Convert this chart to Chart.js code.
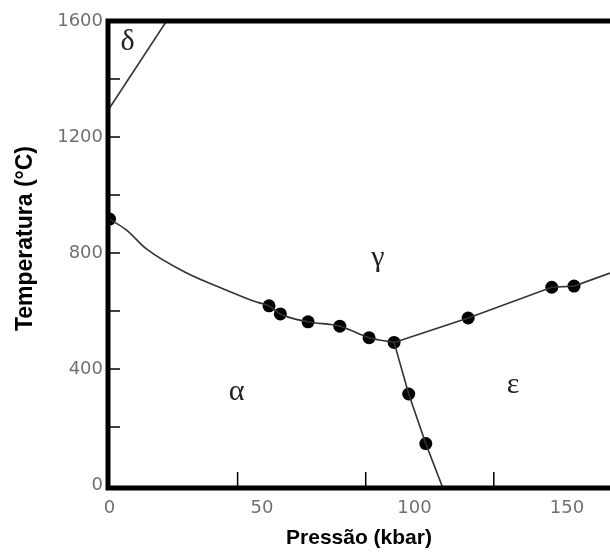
<!DOCTYPE html>
<html>
<head>
<meta charset="utf-8">
<script src="https://cdn.jsdelivr.net/npm/chart.js@4/dist/chart.umd.min.js"></script>
<style>
  html, body { margin: 0; padding: 0; background: #fff; }
  canvas { display: block; }
</style>
</head>
<body>
<canvas id="chart" width="610" height="555"></canvas>
<script>
// pontos medidos (pressão em kbar, temperatura em °C)
const dotP = [0, 52.3, 56.0, 65.1, 75.5, 85.1, 93.3, 98.1, 103.7, 117.6, 145.0, 152.3];
const dotT = [917, 618, 590, 563, 548, 508, 492, 314, 143, 576, 682, 686];

// fronteiras entre as fases
const alphaGammaP = [0, 5.6, 12.1, 25.3, 38.4, 48.2, 52.3, 56.0, 65.1, 75.5, 85.1, 93.3];
const alphaGammaT = [917, 879, 814, 731, 672, 631, 618, 590, 563, 548, 508, 492];
const gammaEpsP = [93.3, 117.6, 145.0, 152.3, 164.1];
const gammaEpsT = [492, 576, 682, 686, 731];
const alphaEpsP = [93.3, 98.1, 103.7, 109.3];
const alphaEpsT = [492, 314, 143, -10];
const deltaP = [0, 18.7];
const deltaT = [1300, 1600];

// nomes das fases
const phaseNames = ['δ', 'γ', 'α', 'ε'];
const phaseP = [5.9, 88, 41.7, 132.3];
const phaseT = [1528, 783, 321, 345];

// eixos
const xLabels = [0, 50, 100, 150];
const xMarks = [42, 84, 126];
const yLabels = [0, 400, 800, 1200, 1600];
const yMarks = [200, 400, 600, 800, 1000, 1200, 1400];
const yTitle = 'Temperatura (°C)';

const pts = (xs, ys) => xs.map((v, i) => ({ x: v, y: ys[i] }));

function boundary(xs, ys, smooth) {
  return {
    data: pts(xs, ys),
    showLine: true,
    borderColor: '#333',
    borderWidth: 1.6,
    pointRadius: 0,
    cubicInterpolationMode: smooth ? 'monotone' : 'default',
    tension: 0
  };
}

const frame = {
  id: 'frame',
  afterDatasetsDraw(chart) {
    const { ctx, chartArea: a, scales: { x, y } } = chart;
    ctx.save();
    ctx.strokeStyle = '#000';
    ctx.lineWidth = 1.5;
    ctx.beginPath();
    yMarks.forEach(v => {
      const py = y.getPixelForValue(v);
      ctx.moveTo(a.left, py);
      ctx.lineTo(a.left + 12, py);
    });
    xMarks.forEach(v => {
      const px = x.getPixelForValue(v);
      ctx.moveTo(px, a.bottom);
      ctx.lineTo(px, a.bottom - 16);
    });
    ctx.stroke();

    ctx.lineWidth = 5;
    ctx.beginPath();
    ctx.moveTo(a.right + 5, a.top);
    ctx.lineTo(a.left, a.top);
    ctx.lineTo(a.left, a.bottom);
    ctx.lineTo(a.right + 5, a.bottom);
    ctx.stroke();

    ctx.fillStyle = '#222';
    ctx.font = '30px "Liberation Serif"';
    ctx.textAlign = 'center';
    ctx.textBaseline = 'middle';
    phaseNames.forEach((s, i) => {
      ctx.fillText(s, x.getPixelForValue(phaseP[i]), y.getPixelForValue(phaseT[i]));
    });

    // título do eixo y, um pouco acima do centro como no original
    ctx.fillStyle = '#000';
    ctx.font = 'bold 23px "Liberation Sans"';
    ctx.translate(26, y.getPixelForValue(850));
    ctx.rotate(-Math.PI / 2);
    ctx.fillText(yTitle, 0, 0);
    ctx.restore();
  }
};

new Chart(document.getElementById('chart'), {
  type: 'scatter',
  data: {
    datasets: [
      boundary(alphaGammaP, alphaGammaT, true),
      boundary(gammaEpsP, gammaEpsT),
      boundary(alphaEpsP, alphaEpsT),
      boundary(deltaP, deltaT),
      {
        data: pts(dotP, dotT),
        showLine: false,
        pointRadius: 6.5,
        pointBackgroundColor: '#000',
        pointBorderColor: '#000',
        pointBorderWidth: 0
      }
    ]
  },
  options: {
    responsive: false,
    animation: false,
    layout: { autoPadding: false, padding: { top: 21, right: 0, bottom: 0, left: 0 } },
    plugins: { legend: { display: false }, tooltip: { enabled: false } },
    scales: {
      x: {
        type: 'linear',
        min: -0.5,
        max: 164.1,
        grid: { display: false, drawTicks: false },
        border: { display: false },
        afterBuildTicks: s => { s.ticks = xLabels.map(v => ({ value: v })); },
        afterFit: s => { s.height = 67; },
        ticks: {
          padding: 10,
          color: '#707070',
          font: { family: 'DejaVu Sans', size: 18 },
          maxRotation: 0,
          callback: v => String(v)
        },
        title: {
          display: true,
          text: 'Pressão (kbar)',
          color: '#000',
          font: { family: 'Liberation Sans', size: 21, weight: 'bold' },
          padding: { top: 4, bottom: 4 }
        }
      },
      y: {
        min: -10,
        max: 1600,
        grid: { display: false, drawTicks: false },
        border: { display: false },
        afterBuildTicks: s => { s.ticks = yLabels.map(v => ({ value: v })); },
        afterFit: s => { s.width = 108; },
        ticks: {
          padding: 5,
          color: '#707070',
          font: { family: 'DejaVu Sans', size: 18 },
          callback: v => String(v)
        }
      }
    }
  },
  plugins: [frame]
});
</script>
</body>
</html>
